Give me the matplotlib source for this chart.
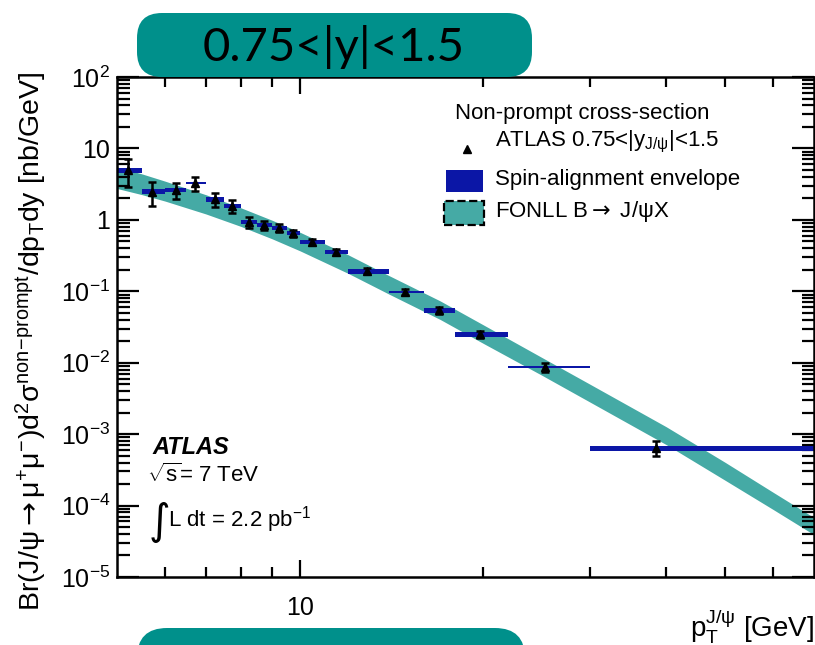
import numpy as np
import matplotlib
matplotlib.use('Agg')
import matplotlib.pyplot as plt
from matplotlib.patches import FancyBboxPatch, Rectangle
from matplotlib.lines import Line2D
from matplotlib.ticker import FixedLocator, NullFormatter

plt.rcParams['font.family'] = ['Liberation Sans', 'DejaVu Sans']
plt.rcParams['mathtext.fontset'] = 'custom'
plt.rcParams['mathtext.rm'] = 'Liberation Sans'
plt.rcParams['mathtext.it'] = 'Liberation Sans:italic'
plt.rcParams['mathtext.bf'] = 'Liberation Sans:bold'
plt.rcParams['mathtext.sf'] = 'DejaVu Sans'  # long arrows

# non-prompt J/psi cross-section, 0.75 < |y| < 1.5
bin_lo = [5.0, 5.5, 6.0, 6.5, 7.0, 7.5, 8.0, 8.5, 9.0, 9.5, 10.0, 11.0, 12.0, 14.0, 16.0, 18.0, 22.0, 30.0]
bin_hi = [5.5, 6.0, 6.5, 7.0, 7.5, 8.0, 8.5, 9.0, 9.5, 10.0, 11.0, 12.0, 14.0, 16.0, 18.0, 22.0, 30.0, 70.0]
pt_mean = [5.22, 5.71, 6.24, 6.71, 7.24, 7.74, 8.24, 8.74, 9.24, 9.74, 10.45, 11.45, 12.9, 14.9, 16.9, 19.8, 25.3, 38.5]
xsec = [5.0, 2.48, 2.6, 3.27, 1.95, 1.56, 0.93, 0.85, 0.77, 0.65, 0.49, 0.354, 0.192,
        0.0975, 0.0546, 0.0252, 0.00867, 0.00064]
xsec_err = [2.1, 0.9, 0.65, 0.75, 0.45, 0.32, 0.15, 0.12, 0.10, 0.08, 0.05, 0.035, 0.018,
            0.010, 0.006, 0.003, 0.0012, 0.00015]
# spin-alignment envelope, relative half-spread
spin_rel = [0.08, 0.08, 0.07, 0.03, 0.08, 0.07, 0.07, 0.07, 0.07, 0.07, 0.07, 0.07, 0.08,
            0.03, 0.08, 0.08, 0.03, 0.08]

# FONLL B -> J/psi X prediction band
fonll_pt = [5, 5.5, 6, 7, 8, 9, 10, 12, 14, 17, 20, 25, 30, 40, 50, 60, 70]
fonll_hi = [5.50, 4.39, 3.48, 2.25, 1.47, 0.986, 0.670, 0.324, 0.166, 0.0733, 0.0340, 0.0118,
            0.00498, 0.00127, 4.03e-4, 1.53e-4, 6.79e-5]
fonll_lo = [2.75, 2.25, 1.83, 1.21, 0.807, 0.542, 0.368, 0.178, 0.0914, 0.0403, 0.0187, 0.00665,
            0.00280, 0.000714, 2.26e-4, 8.79e-5, 3.91e-5]

y_ticks = [1e2, 1e1, 1e0, 1e-1, 1e-2, 1e-3, 1e-4, 1e-5]
y_ticklabels = [r'$10^{2}$', '10', '1', r'$10^{-1}$', r'$10^{-2}$', r'$10^{-3}$', r'$10^{-4}$', r'$10^{-5}$']

TEAL = '#45aaa5'
BLUE = '#0b16a6'
BADGE = '#00908b'

W, H = 815, 645
fig = plt.figure(figsize=(W / 100, H / 100), dpi=100)
ax = fig.add_axes([117 / W, 1 - 577 / H, (814 - 117) / W, (577 - 77) / H])

ax.fill_between(fonll_pt, fonll_lo, fonll_hi, color=TEAL, lw=0, zorder=1)

lo = np.array(bin_lo)
hi = np.array(bin_hi)
y = np.array(xsec)
s = np.array(spin_rel)
ax.bar(lo, y * (1 + s) - y * (1 - s), bottom=y * (1 - s), width=hi - lo, align='edge',
       color=BLUE, lw=0, zorder=2)
ax.errorbar(pt_mean, xsec, yerr=xsec_err, fmt='^', color='black', ms=5.5, elinewidth=1.8,
            capsize=3, capthick=1.8, zorder=3)

ax.set_xscale('log')
ax.set_yscale('log')
ax.set_xlim(5, 70)
ax.set_ylim(1e-5, 1e2)

ax.xaxis.set_major_locator(FixedLocator([10]))
ax.xaxis.set_minor_locator(FixedLocator([6, 7, 8, 9, 20, 30, 40, 50, 60]))
ax.xaxis.set_minor_formatter(NullFormatter())
ax.set_xticklabels(['10'])
ax.yaxis.set_major_locator(FixedLocator(y_ticks))
ax.set_yticklabels(y_ticklabels)

ax.tick_params(which='both', direction='in', top=True, right=True, width=1.6, color='black',
               labelsize=18, pad=5)
ax.tick_params(axis='y', which='major', length=16)
ax.tick_params(axis='y', which='minor', length=9)
ax.tick_params(axis='x', which='major', length=12, pad=14)
ax.tick_params(axis='x', which='minor', length=7)
for sp in ax.spines.values():
    sp.set_linewidth(1.8)

# axis titles
fig.text(814 / W, 1 - 627 / H, r'p$_{\mathrm{T}}^{\mathrm{J/ψ}}$ [GeV]', ha='right', va='center',
         fontsize=20)
fig.text(31 / W, 1 - 341 / H,
         r'Br(J/ψ$\mathsf{\rightarrow}$μ$^{+}$μ$^{-}$)d$^{2}$σ$^{\mathrm{non\!-\!prompt}}$'
         r'/dp$_{\mathrm{T}}$dy [nb/GeV]',
         rotation=90, ha='center', va='center', fontsize=20.5)

# legend
fs = 16
fig.text(455 / W, 1 - 113 / H, 'Non-prompt cross-section', fontsize=fs, va='center')
fig.add_artist(Line2D([467 / W], [1 - 149 / H], marker='^', color='black', ms=6, ls=''))
fig.text(495 / W, 1 - 142 / H, r'ATLAS 0.75<|y$_{\mathrm{J/ψ}}$|<1.5', fontsize=fs, va='center')
fig.add_artist(Rectangle((446 / W, 1 - 192 / H), 37 / W, 22 / H, transform=fig.transFigure,
                         facecolor=BLUE, edgecolor='none'))
fig.text(495 / W, 1 - 179 / H, 'Spin-alignment envelope', fontsize=fs, va='center')
fig.add_artist(Rectangle((444 / W, 1 - 225 / H), 40 / W, 24 / H, transform=fig.transFigure,
                         facecolor=TEAL, edgecolor='black', ls='--', lw=1.6))
fig.text(495 / W, 1 - 211 / H, r'FONLL B$\mathsf{\rightarrow}$ J/ψX', fontsize=fs, va='center')

# experiment labels
fig.text(152 / W, 1 - 448 / H, 'ATLAS', fontsize=17, fontweight='bold', fontstyle='italic',
         va='center')
fig.text(147 / W, 1 - 475 / H, r'$\sqrt{\mathrm{s}}$= 7 TeV', fontsize=16, va='center')
fig.text(149 / W, 1 - 522 / H, '∫', fontsize=30, va='center', family='DejaVu Sans')
fig.text(168 / W, 1 - 520 / H, r'L dt = 2.2 pb$^{\mathrm{-1}}$', fontsize=16, va='center')

# rapidity badges
badge = FancyBboxPatch((1.37 + 0.25, (H - 77) / 100 + 0.25), 3.95 - 0.5, 0.64 - 0.5,
                       boxstyle='round,pad=0.25', transform=fig.dpi_scale_trans,
                       facecolor=BADGE, edgecolor='none', zorder=10)
fig.add_artist(badge)
fig.text(334 / W, 1 - 47 / H, '0.75<|y|<1.5', fontsize=34, family='Lato', ha='center',
         va='center', color='black', zorder=11)
badge2 = FancyBboxPatch((1.37 + 0.3, -0.6), 3.88 - 0.6, 0.6 + 0.17 - 0.3,
                        boxstyle='round,pad=0.3', transform=fig.dpi_scale_trans,
                        facecolor=BADGE, edgecolor='none', zorder=10)
fig.add_artist(badge2)

fig.savefig('out.png', dpi=100)
